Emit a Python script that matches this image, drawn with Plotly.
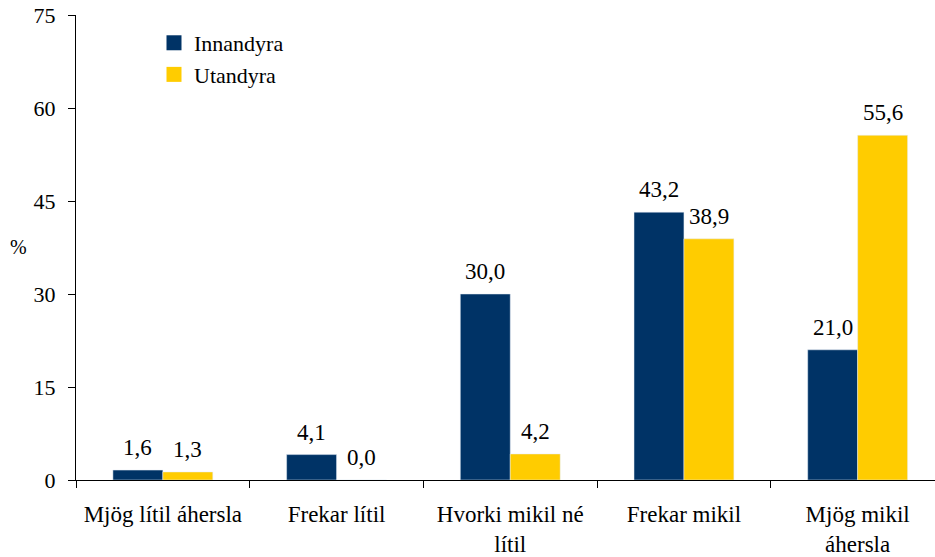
import plotly.graph_objects as go

categories = ["Mjög lítil áhersla", "Frekar lítil", "Hvorki mikil né<br>lítil",
              "Frekar mikil", "Mjög mikil<br>áhersla"]
innandyra = [1.6, 4.1, 30.0, 43.2, 21.0]
utandyra = [1.3, 0.0, 4.2, 38.9, 55.6]
y_ticks = [0, 15, 30, 45, 60, 75]

navy = "#003366"
yellow = "#FFCC00"
serif = "Liberation Serif"

fig = go.Figure()
fig.add_trace(go.Bar(name="Innandyra", x=categories, y=innandyra, marker_color=navy,
                     showlegend=False))
fig.add_trace(go.Bar(name="Utandyra", x=categories, y=utandyra, marker_color=yellow,
                     showlegend=False))
# legend entries with square swatches
for name, col in [("Innandyra", navy), ("Utandyra", yellow)]:
    fig.add_trace(go.Scatter(x=[None], y=[None], mode="markers", name=name,
                             marker=dict(symbol="square", size=15, color=col)))

# value labels above the bars
for vals, shift in [(innandyra, -25), (utandyra, 25)]:
    for cat, v in zip(categories, vals):
        fig.add_annotation(x=cat, y=v, text=f"{v:.1f}".replace(".", ","),
                           showarrow=False, yanchor="bottom", xshift=shift, yshift=8,
                           font=dict(family=serif, size=23, color="black"))

fig.update_layout(
    width=935, height=557,
    margin=dict(l=76, r=0, t=15, b=77, autoexpand=False),
    barmode="group", bargap=0.425, bargroupgap=0,
    plot_bgcolor="white", paper_bgcolor="white",
    font=dict(family=serif, size=22, color="black"),
    showlegend=True,
    legend=dict(x=0.0908, y=0.985, xanchor="left", yanchor="top",
                bgcolor="rgba(0,0,0,0)", font=dict(family=serif, size=22),
                tracegroupgap=0, itemsizing="trace"),
)
fig.update_xaxes(
    range=[-0.5, -0.5 + 859 / 173.7], automargin=False,
    showline=True, linecolor="black", linewidth=1,
    ticks="outside", tickson="boundaries", ticklen=7, tickcolor="black",
    tickfont=dict(family=serif, size=23), ticklabelstandoff=13,
)
fig.update_yaxes(
    range=[0, 75], tickvals=y_ticks, showgrid=False, zeroline=False, automargin=False,
    showline=True, linecolor="black", linewidth=1,
    ticks="outside", ticklen=7, tickcolor="black",
    tickfont=dict(family=serif, size=22), ticklabelstandoff=8,
)
fig.add_annotation(text="%", xref="paper", yref="paper", showarrow=False,
                   x=(18 - 76) / 859, y=(480 - 247) / 465,
                   xanchor="center", yanchor="middle",
                   font=dict(family=serif, size=20))

fig.write_html("out.html", config={"displayModeBar": False},
               post_script="document.body.style.margin='0';")
